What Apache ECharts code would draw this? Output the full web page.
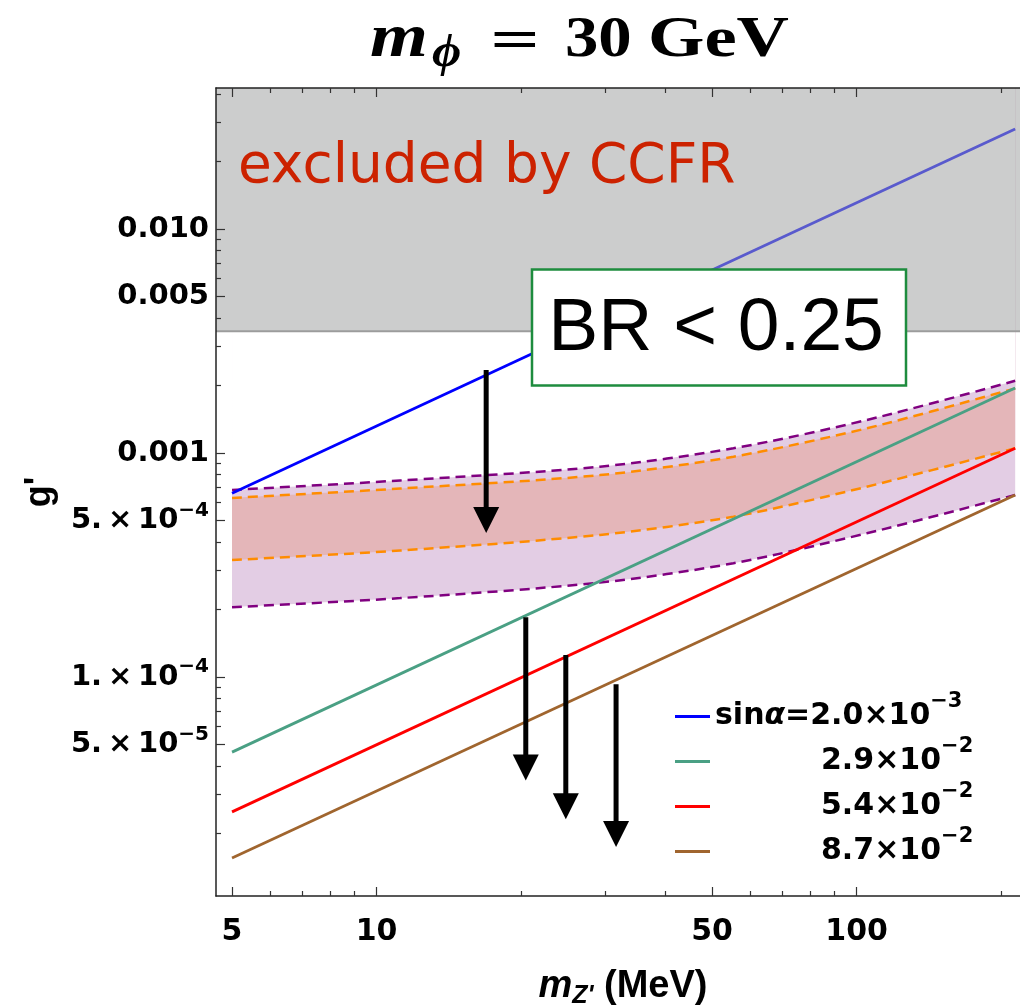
<!DOCTYPE html>
<html lang="en">
<head>
<meta charset="UTF-8">
<title>m_phi = 30 GeV</title>
<script src="https://cdn.jsdelivr.net/npm/echarts@6/dist/echarts.min.js"></script>
<style>html,body{margin:0;padding:0;background:#fff;overflow:hidden;}</style>
</head>
<body>
<div id="main" style="width:1020px;height:1005px;"></div>
<script>
// plot range: m_Z' in MeV, g'
const xRange = [4.63, 219];
const yRange = [1.053e-5, 0.0426];

// ticks
const xMajorTicks = [5, 10, 50, 100];
const xTickLabels = ['5', '10', '50', '100'];
const xMinorTicks = [6, 7, 8, 9, 20, 30, 40, 60, 70, 80, 90, 200];
const yMajorTicks = [0.01, 0.005, 0.001, 5e-4, 1e-4, 5e-5];
const yTickLabels = ['0.010', '0.005', '0.001', '5.\u2009×\u200910^−4', '1.\u2009×\u200910^−4', '5.\u2009×\u200910^−5'];
const yMinorTicks = [2e-5, 3e-5, 4e-5, 6e-5, 7e-5, 8e-5, 9e-5,
  2e-4, 3e-4, 4e-4, 6e-4, 7e-4, 8e-4, 9e-4,
  2e-3, 3e-3, 4e-3, 6e-3, 7e-3, 8e-3, 9e-3, 0.02, 0.03, 0.04];

// solid lines, one per sin(alpha)
const lineNames = ['sinα=2.0×10^−3', '2.9×10^−2', '5.4×10^−2', '8.7×10^−2'];
const lineColors = ['#0000ff', '#4aa084', '#ff0000', '#a0652e'];
const mLine = [5, 214];
const gBlue = [6.61e-4, 2.795e-2];
const gTeal = [4.62e-5, 1.95e-3];
const gRed = [2.50e-5, 1.05e-3];
const gBrown = [1.556e-5, 6.49e-4];

// dashed band edges
const mBand = [5, 11.2, 29.2, 55.4, 105, 214];
const purpleUpper = [6.84e-4, 7.54e-4, 8.69e-4, 1.05e-3, 1.404e-3, 2.10e-3];
const orangeUpper = [6.30e-4, 6.94e-4, 7.97e-4, 9.63e-4, 1.289e-3, 1.944e-3];
const orangeLower = [3.33e-4, 3.67e-4, 4.31e-4, 5.20e-4, 7.07e-4, 1.05e-3];
const purpleLower = [2.05e-4, 2.25e-4, 2.64e-4, 3.22e-4, 4.38e-4, 6.49e-4];

// CCFR excluded above this g'
const grayCut = 3.5e-3;

// arrows: x, start, head centre
const arrowX = [16.92, 20.46, 24.79, 31.55];
const arrowFrom = [2.35e-3, 1.847e-4, 1.253e-4, 9.28e-5];
const arrowTo = [5.02e-4, 3.95e-5, 2.65e-5, 1.99e-5];

const L = Math.log10;
const xy = (xs, ys) => xs.map((x, i) => [L(x), L(ys[i])]);
const idxOf = (arr, v) => arr.findIndex(t => Math.abs(L(t) - v) < 1e-6);

const tickFont = {fontFamily: 'DejaVu Sans', fontWeight: 'bold', color: '#000'};

function supLabel(text, pad) {
  const [base, exp] = text.split('^');
  let s = pad ? '{pad| }' : '';
  if (base.startsWith('sinα')) {
    s += '{b|sin}{a|α}{b|' + base.slice(4) + '}';
  } else {
    s += '{b|' + base + '}';
  }
  if (exp) s += '{s|' + exp + '}';
  return s;
}

function xAxisCfg(pos, major, showLine) {
  return {
    type: 'value', position: pos, offset: 0, z: 10,
    min: L(xRange[0]), max: L(xRange[1]),
    splitLine: {show: false},
    axisLine: {show: showLine, onZero: false, lineStyle: {color: '#222', width: 1.5}},
    axisTick: {inside: true, length: major ? 9 : 5,
      customValues: (major ? xMajorTicks : xMinorTicks).map(L),
      lineStyle: {color: '#333', width: 1.2}},
    axisLabel: {show: false}
  };
}
function yAxisCfg(major, showLine) {
  return {
    type: 'value', position: 'left', offset: 0, z: 10,
    min: L(yRange[0]), max: L(yRange[1]),
    splitLine: {show: false},
    axisLine: {show: showLine, onZero: false, lineStyle: {color: '#222', width: 1.5}},
    axisTick: {inside: true, length: major ? 9 : 5,
      customValues: (major ? yMajorTicks : yMinorTicks).map(L),
      lineStyle: {color: '#333', width: 1.2}},
    axisLabel: {show: false}
  };
}

const xMain = xAxisCfg('bottom', true, true);
xMain.axisLabel = {
  show: true, customValues: xMajorTicks.map(L), margin: 21,
  formatter: v => xTickLabels[idxOf(xMajorTicks, v)],
  fontSize: 30, ...tickFont
};
xMain.name = "{i|m}{z|Z'}{b| (MeV)}";
xMain.nameLocation = 'middle';
xMain.nameGap = 69;
xMain.nameTextStyle = {
  padding: [0, 0, 0, 10],
  rich: {
    b: {fontFamily: 'Liberation Sans', fontWeight: 'bold', fontSize: 38, lineHeight: 44, color: '#000'},
    i: {fontFamily: 'Liberation Sans', fontWeight: 'bold', fontStyle: 'italic', fontSize: 38, lineHeight: 44, color: '#000'},
    z: {fontFamily: 'Liberation Sans', fontWeight: 'bold', fontStyle: 'italic', fontSize: 25, lineHeight: 25, padding: [19, 0, 0, 0], color: '#000'}
  }
};

const yMain = yAxisCfg(true, true);
yMain.axisLabel = {
  show: true, customValues: yMajorTicks.map(L), margin: 7,
  formatter: v => supLabel(yTickLabels[idxOf(yMajorTicks, v)], false),
  rich: {
    b: {fontSize: 29, lineHeight: 40, ...tickFont},
    s: {fontSize: 20, lineHeight: 20, padding: [0, 0, 20, 0], ...tickFont}
  }
};
yMain.name = "g'";
yMain.nameLocation = 'middle';
yMain.nameRotate = 90;
yMain.nameGap = 154;
yMain.nameTextStyle = {fontFamily: 'Liberation Sans', fontWeight: 'bold', fontSize: 36, lineHeight: 40, color: '#000'};

// band fills: each curve fills up to the top, painted bottom curve first
const bandSmooth = 0.3;
function fillAbove(ys, color) {
  return {type: 'line', data: xy(mBand, ys), smooth: bandSmooth, symbol: 'none', silent: true, z: 1,
    lineStyle: {width: 0, opacity: 0}, areaStyle: {origin: 'end', color: color, opacity: 1}};
}
function dashed(ys, color) {
  return {type: 'line', data: xy(mBand, ys), smooth: bandSmooth, symbol: 'none', silent: true, z: 2,
    lineStyle: {color: color, width: 2.5, type: [10, 6]}};
}

const solidData = [gBlue, gTeal, gRed, gBrown];
const solidSeries = solidData.map((g, i) => ({
  type: 'line', name: lineNames[i], data: xy(mLine, g), symbol: 'none', silent: true, z: 3,
  lineStyle: {color: lineColors[i], width: 2.8}, itemStyle: {color: lineColors[i]}
}));

const arrowSeries = arrowX.map((x, i) => ({
  type: 'line', silent: true, z: 6, showSymbol: true,
  data: [
    {value: [L(x), L(arrowFrom[i])], symbol: 'none'},
    {value: [L(x), L(arrowTo[i])], symbol: 'triangle', symbolSize: 26, symbolRotate: 180}
  ],
  lineStyle: {color: '#000', width: 5, cap: 'butt'}, itemStyle: {color: '#000'}
}));

const graySeries = {
  type: 'line', data: xy(xRange, [grayCut, grayCut]), symbol: 'none', silent: true, z: 5,
  lineStyle: {color: '#9c9c9c', width: 2},
  areaStyle: {origin: 'end', color: 'rgba(163,164,164,0.55)', opacity: 1}
};

function txt(x, y, text, font, extra) {
  const e = extra || {};
  return {type: 'text', x: x, y: y, z: e.z || 100, scaleX: e.scaleX || 1,
    style: {text: text, font: font, fill: e.fill || '#000', align: e.align || 'left', verticalAlign: 'middle'}};
}

const chart = echarts.init(document.getElementById('main'));

chart.setOption({
  animation: false,
  backgroundColor: '#fff',
  grid: {left: 216, top: 88, right: 0, bottom: 109, containLabel: false, outerBoundsMode: 'none'},
  xAxis: [xMain, xAxisCfg('bottom', false, false), xAxisCfg('top', true, true), xAxisCfg('top', false, false)],
  yAxis: [yMain, yAxisCfg(false, false)],
  legend: {
    orient: 'vertical', left: 675, top: 691, padding: 0, itemWidth: 35, itemHeight: 3, itemGap: -6,
    icon: 'rect', selectedMode: false, data: lineNames,
    formatter: name => supLabel(name, !name.startsWith('sin')),
    textStyle: {
      rich: {
        pad: {width: 106},
        b: {fontSize: 30, lineHeight: 40, ...tickFont},
        a: {fontSize: 30, lineHeight: 40, fontStyle: 'italic', ...tickFont},
        s: {fontSize: 21, lineHeight: 10, padding: [0, 0, 30, 0], ...tickFont}
      }
    }
  },
  series: [
    fillAbove(purpleLower, '#e3cde4'),
    fillAbove(orangeLower, '#e4b6b9'),
    fillAbove(orangeUpper, '#e3cde4'),
    fillAbove(purpleUpper, '#ffffff'),
    dashed(purpleUpper, '#800080'),
    dashed(purpleLower, '#800080'),
    dashed(orangeUpper, '#ff8c00'),
    dashed(orangeLower, '#ff8c00'),
    ...solidSeries,
    graySeries,
    ...arrowSeries
  ],
  graphic: [
    txt(238, 168, 'excluded by CCFR', '55px "DejaVu Sans"', {fill: '#cc2200'}),
    {type: 'rect', z: 100, shape: {x: 532, y: 269.5, width: 374, height: 116},
      style: {fill: '#fff', stroke: '#1e8c3e', lineWidth: 2.5}},
    txt(716, 329, 'BR < 0.25', '75px "Liberation Sans"', {z: 101, align: 'center'}),
    txt(370, 40, 'm', 'italic bold 62px "Liberation Serif"', {scaleX: 1.2}),
    txt(432, 54, 'ϕ', 'italic bold 46px "Liberation Serif"', {scaleX: 1.1}),
    txt(515, 43, '=', 'bold 58px "Liberation Serif"', {scaleX: 1.5, align: 'center'}),
    txt(565, 41, '30', 'bold 58px "Liberation Serif"', {scaleX: 1.15}),
    txt(648, 41, 'GeV', 'bold 58px "Liberation Serif"', {scaleX: 1.25})
  ]
});
</script>
</body>
</html>
